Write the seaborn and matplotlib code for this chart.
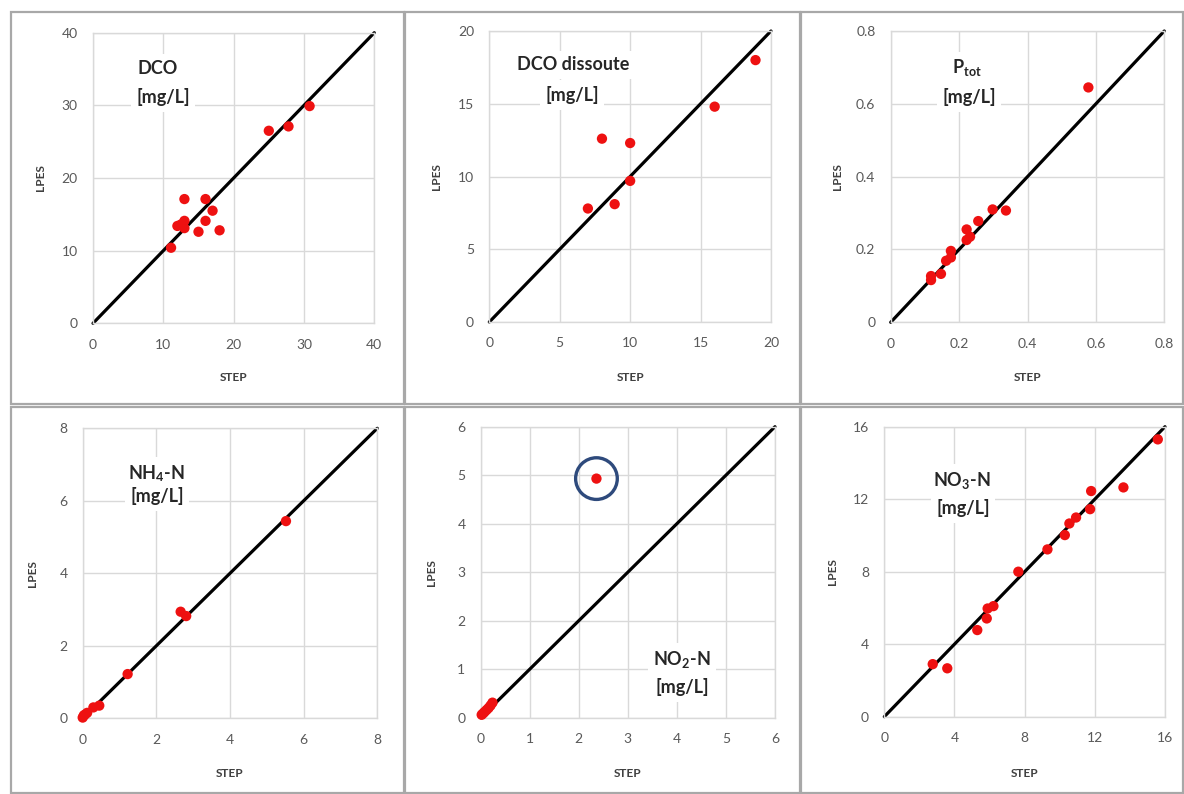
import matplotlib
matplotlib.use("Agg")
import matplotlib.pyplot as plt
import seaborn as sns
import pandas as pd
from matplotlib.patches import Rectangle

sns.set_style("white")
plt.rcParams['font.family'] = ['Lato', 'DejaVu Sans']

# ---------------- data ----------------
dco_step = [11.1, 13.0, 16.0, 17.0, 16.0, 12.0, 13.0, 13.0, 15.0, 18.0, 25.0, 27.8, 30.8, 12.5]
dco_lpes = [10.4, 17.1, 17.1, 15.5, 14.1, 13.4, 14.1, 13.1, 12.6, 12.8, 26.5, 27.1, 29.9, 13.6]

dcod_step = [7.0, 8.0, 8.9, 10.0, 10.0, 16.0, 18.9]
dcod_lpes = [7.8, 12.6, 8.1, 12.3, 9.7, 14.8, 18.0]

ptot_step = [0.118, 0.118, 0.147, 0.162, 0.176, 0.176, 0.222, 0.222, 0.232, 0.256, 0.298, 0.337, 0.578]
ptot_lpes = [0.116, 0.127, 0.133, 0.169, 0.178, 0.196, 0.226, 0.255, 0.235, 0.278, 0.310, 0.307, 0.645]

nh4_step = [0.0, 0.03, 0.06, 0.12, 0.29, 0.45, 1.22, 2.66, 2.81, 5.52]
nh4_lpes = [0.02, 0.08, 0.10, 0.15, 0.30, 0.35, 1.22, 2.94, 2.82, 5.44]

no2_step = [0.02, 0.05, 0.08, 0.12, 0.16, 0.20, 0.24, 2.36]
no2_lpes = [0.06, 0.09, 0.12, 0.16, 0.20, 0.25, 0.31, 4.93]

no3_step = [2.76, 3.59, 5.30, 5.84, 5.89, 6.22, 7.64, 9.30, 10.29, 10.55, 10.93, 11.73, 11.79, 13.63, 15.59]
no3_lpes = [2.90, 2.67, 4.78, 5.42, 5.97, 6.10, 8.00, 9.23, 10.02, 10.66, 10.99, 11.45, 12.45, 12.65, 15.30]

dco_ticks = [0, 10, 20, 30, 40]
dcod_ticks = [0, 5, 10, 15, 20]
ptot_ticks = [0, 0.2, 0.4, 0.6, 0.8]
ptot_labels = ["0", "0.2", "0.4", "0.6", "0.8"]
nh4_ticks = [0, 2, 4, 6, 8]
no2_ticks = [0, 1, 2, 3, 4, 5, 6]
no3_ticks = [0, 4, 8, 12, 16]

outlier_step = [2.36]
outlier_lpes = [4.93]

# ---------------- layout ----------------
W, H = 1184, 794
fig = plt.figure(figsize=(W / 100, H / 100), dpi=100)

def px_axes(x0, x1, ytop, ybot):
    return fig.add_axes([x0 / W, 1 - ybot / H, (x1 - x0) / W, (ybot - ytop) / H])

# panel frames
frames = [(11, 12, 404, 404), (405, 12, 800, 404), (801, 12, 1183, 404),
          (11, 407, 404, 793), (405, 407, 800, 793), (801, 407, 1183, 793)]
for (a, b, c, d) in frames:
    fig.patches.append(Rectangle((a / W, 1 - d / H), (c - a) / W, (d - b) / H,
                                 transform=fig.transFigure, fill=False,
                                 edgecolor="#a8a8a8", linewidth=1.6))

panels = [
    dict(x=dco_step, y=dco_lpes, ticks=dco_ticks, labels=None, box=(93, 374.3, 32.7, 323.3),
         lpes_x=46, step_y=372, title=["DCO", "[mg/L]"], tpos=[(158, 68), (163, 97)]),
    dict(x=dcod_step, y=dcod_lpes, ticks=dcod_ticks, labels=None, box=(489.3, 771, 31, 322),
         lpes_x=442, step_y=372, title=["DCO dissoute", "[mg/L]"], tpos=[(573, 65), (572, 95)]),
    dict(x=ptot_step, y=ptot_lpes, ticks=ptot_ticks, labels=ptot_labels, box=(890.7, 1164.3, 31, 322.3),
         lpes_x=843, step_y=372, title=[r"P$_{\mathregular{tot}}$", "[mg/L]"], tpos=[(967, 68), (969, 97)]),
    dict(x=nh4_step, y=nh4_lpes, ticks=nh4_ticks, labels=None, box=(82.7, 377.3, 428.3, 718.3),
         lpes_x=38, step_y=768, title=[r"NH$_{\mathregular{4}}$-N", "[mg/L]"], tpos=[(156, 473), (157, 496)]),
    dict(x=no2_step, y=no2_lpes, ticks=no2_ticks, labels=None, box=(480.7, 775, 426.7, 717.7),
         lpes_x=437, step_y=768, title=[r"NO$_{\mathregular{2}}$-N", "[mg/L]"], tpos=[(682, 659), (682, 687)]),
    dict(x=no3_step, y=no3_lpes, ticks=no3_ticks, labels=None, box=(884.3, 1165, 426.7, 716.7),
         lpes_x=838, step_y=768, title=[r"NO$_{\mathregular{3}}$-N", "[mg/L]"], tpos=[(962, 480), (963, 508)]),
]

grid_c = "#d9d9d9"
for i, p in enumerate(panels):
    x0, x1, yt, yb = p["box"]
    ax = px_axes(x0, x1, yt, yb)
    lo, hi = p["ticks"][0], p["ticks"][-1]
    ax.set_xlim(lo, hi)
    ax.set_ylim(lo, hi)
    ax.set_xticks(p["ticks"])
    ax.set_yticks(p["ticks"])
    if p["labels"] is not None:
        ax.set_xticklabels(p["labels"])
        ax.set_yticklabels(p["labels"])
    ax.grid(True, color=grid_c, linewidth=1.0)
    ax.set_axisbelow(True)
    for s in ax.spines.values():
        s.set_color(grid_c)
        s.set_linewidth(1.0)
    ax.tick_params(axis="both", length=5, width=1, color=grid_c, labelsize=10,
                   labelcolor="#595959", pad=6)

    # 1:1 line
    line_df = pd.DataFrame({"a": [lo, hi], "b": [lo, hi]})
    sns.lineplot(data=line_df, x="a", y="b", ax=ax, color="black", linewidth=2.3,
                 zorder=2, clip_on=False)

    df = pd.DataFrame({"STEP": p["x"], "LPES": p["y"]})
    sns.scatterplot(data=df, x="STEP", y="LPES", ax=ax, color="#ee1111", s=55,
                    edgecolor="none", linewidth=0, zorder=3, clip_on=False)

    if i == 4:
        odf = pd.DataFrame({"STEP": outlier_step, "LPES": outlier_lpes})
        sns.scatterplot(data=odf, x="STEP", y="LPES", ax=ax, s=900, marker="o",
                        facecolor="none", edgecolor="#2e4a7c", linewidth=2.4, zorder=4)

    ax.set_xlabel("STEP", fontsize=8.5, fontweight="bold", color="#404040")
    ax.set_ylabel("LPES", fontsize=8.5, fontweight="bold", color="#404040")
    w, h = x1 - x0, yb - yt
    ax.xaxis.set_label_coords(0.5, (yb - p["step_y"]) / h)
    ax.yaxis.set_label_coords((p["lpes_x"] - x0) / w, 0.5)

    for txt, (tx, ty) in zip(p["title"], p["tpos"]):
        ax.text((tx - x0) / w, (yb - ty) / h, txt, transform=ax.transAxes,
                ha="center", va="center", fontsize=13, fontweight="bold", color="#262626",
                bbox=dict(facecolor="white", edgecolor="none", pad=4), zorder=5)

fig.savefig("out.png", dpi=100)
